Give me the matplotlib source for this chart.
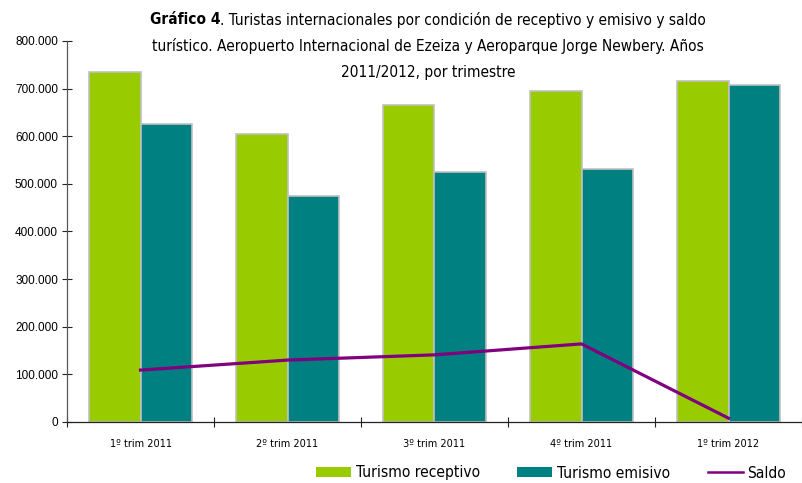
import matplotlib
matplotlib.use("Agg")
import matplotlib.pyplot as plt
from matplotlib.patches import Patch
from matplotlib.lines import Line2D
from matplotlib.ticker import FuncFormatter
import numpy as np
from matplotlib import font_manager

categories = ["1º trim 2011", "2º trim 2011", "3º trim 2011", "4º trim 2011", "1º trim 2012"]
receptivo = [735000, 605000, 666000, 695000, 716000]
emisivo = [626000, 475000, 525000, 531000, 708000]
saldo = [r - e for r, e in zip(receptivo, emisivo)]

names = {f.name for f in font_manager.fontManager.ttflist}
NARROW = "Liberation Sans Narrow" if "Liberation Sans Narrow" in names else "DejaVu Sans"
FAM = [NARROW, "DejaVu Sans"]
STRETCH = "condensed"
ARIAL = ["Liberation Sans", "DejaVu Sans"]

GREEN = "#99CC00"
TEAL = "#008080"
PURPLE = "#800080"

fig = plt.figure(figsize=(8.02, 4.83), dpi=100)
ax = fig.add_axes([67/802, 1-422/483, 1-67/802, (422-41)/483])

x = np.arange(len(categories))
w = 0.35
ax.bar(x - w/2, receptivo, w, color=GREEN, edgecolor="#C0C0C0", linewidth=1.2, zorder=2)
ax.bar(x + w/2, emisivo, w, color=TEAL, edgecolor="#C0C0C0", linewidth=1.2, zorder=2)
ax.plot(x, saldo, color=PURPLE, linewidth=2.3, zorder=3)

ax.set_xlim(-0.5, len(categories) - 0.5)
ax.set_ylim(0, 800000)
ax.set_yticks(np.arange(0, 800001, 100000))
ax.yaxis.set_major_formatter(FuncFormatter(lambda v, p: "0" if v == 0 else f"{int(v):,}".replace(",", ".")))
ax.set_xticks(x)
ax.set_xticklabels(categories, family=FAM, fontsize=7.8, fontstretch=STRETCH)
ax.set_xticks(np.arange(-0.5, len(categories)), minor=True)
ax.tick_params(axis="x", which="major", length=0, pad=12)
ax.tick_params(axis="x", which="minor", direction="inout", length=7, width=0.8, color="#222222")
ax.tick_params(axis="y", direction="inout", length=7, width=0.8, color="#222222", labelsize=8.5, pad=3)
for lab in ax.get_yticklabels():
    lab.set_family(ARIAL)

for s in ["top", "right"]:
    ax.spines[s].set_visible(False)
ax.spines["left"].set_color("#555555")
ax.spines["bottom"].set_color("#222222")
ax.spines["left"].set_linewidth(0.9)
ax.spines["bottom"].set_linewidth(0.9)

# Title
fig.canvas.draw()
r = fig.canvas.get_renderer()
tfs = 11.1
bold = fig.text(0, 0, "Gráfico 4", family=FAM, fontsize=tfs, weight="bold", fontstretch=STRETCH)
rest = fig.text(0, 0, ". Turistas internacionales por condición de receptivo y emisivo y saldo",
                family=FAM, fontsize=tfs, fontstretch=STRETCH)
wb = bold.get_window_extent(r).width
wr = rest.get_window_extent(r).width
cx = 428
y1 = 1 - 20/483
start = cx - (wb + wr) / 2
bold.set_position((start/802, y1)); bold.set_va("center")
rest.set_position(((start + wb)/802, y1)); rest.set_va("center")
fig.text(cx/802, 1-46/483, "turístico. Aeropuerto Internacional de Ezeiza y Aeroparque Jorge Newbery. Años",
         family=FAM, fontsize=tfs, ha="center", va="center", fontstretch=STRETCH)
fig.text(cx/802, 1-72/483, "2011/2012, por trimestre", family=FAM, fontsize=tfs, ha="center", va="center",
         fontstretch=STRETCH)

handles = [Patch(facecolor=GREEN, edgecolor="none", label="Turismo receptivo"),
           Patch(facecolor=TEAL, edgecolor="none", label="Turismo emisivo"),
           Line2D([], [], color=PURPLE, linewidth=1.8, label="Saldo")]
fig.legend(handles=handles, loc="center", bbox_to_anchor=(551/802, 1-473/483), ncol=3, frameon=False,
           prop={"family": FAM, "size": 11.2, "stretch": STRETCH}, handlelength=2.25, handleheight=0.65,
           handletextpad=0.32, columnspacing=2.4)

fig.savefig("out.png", dpi=100)
